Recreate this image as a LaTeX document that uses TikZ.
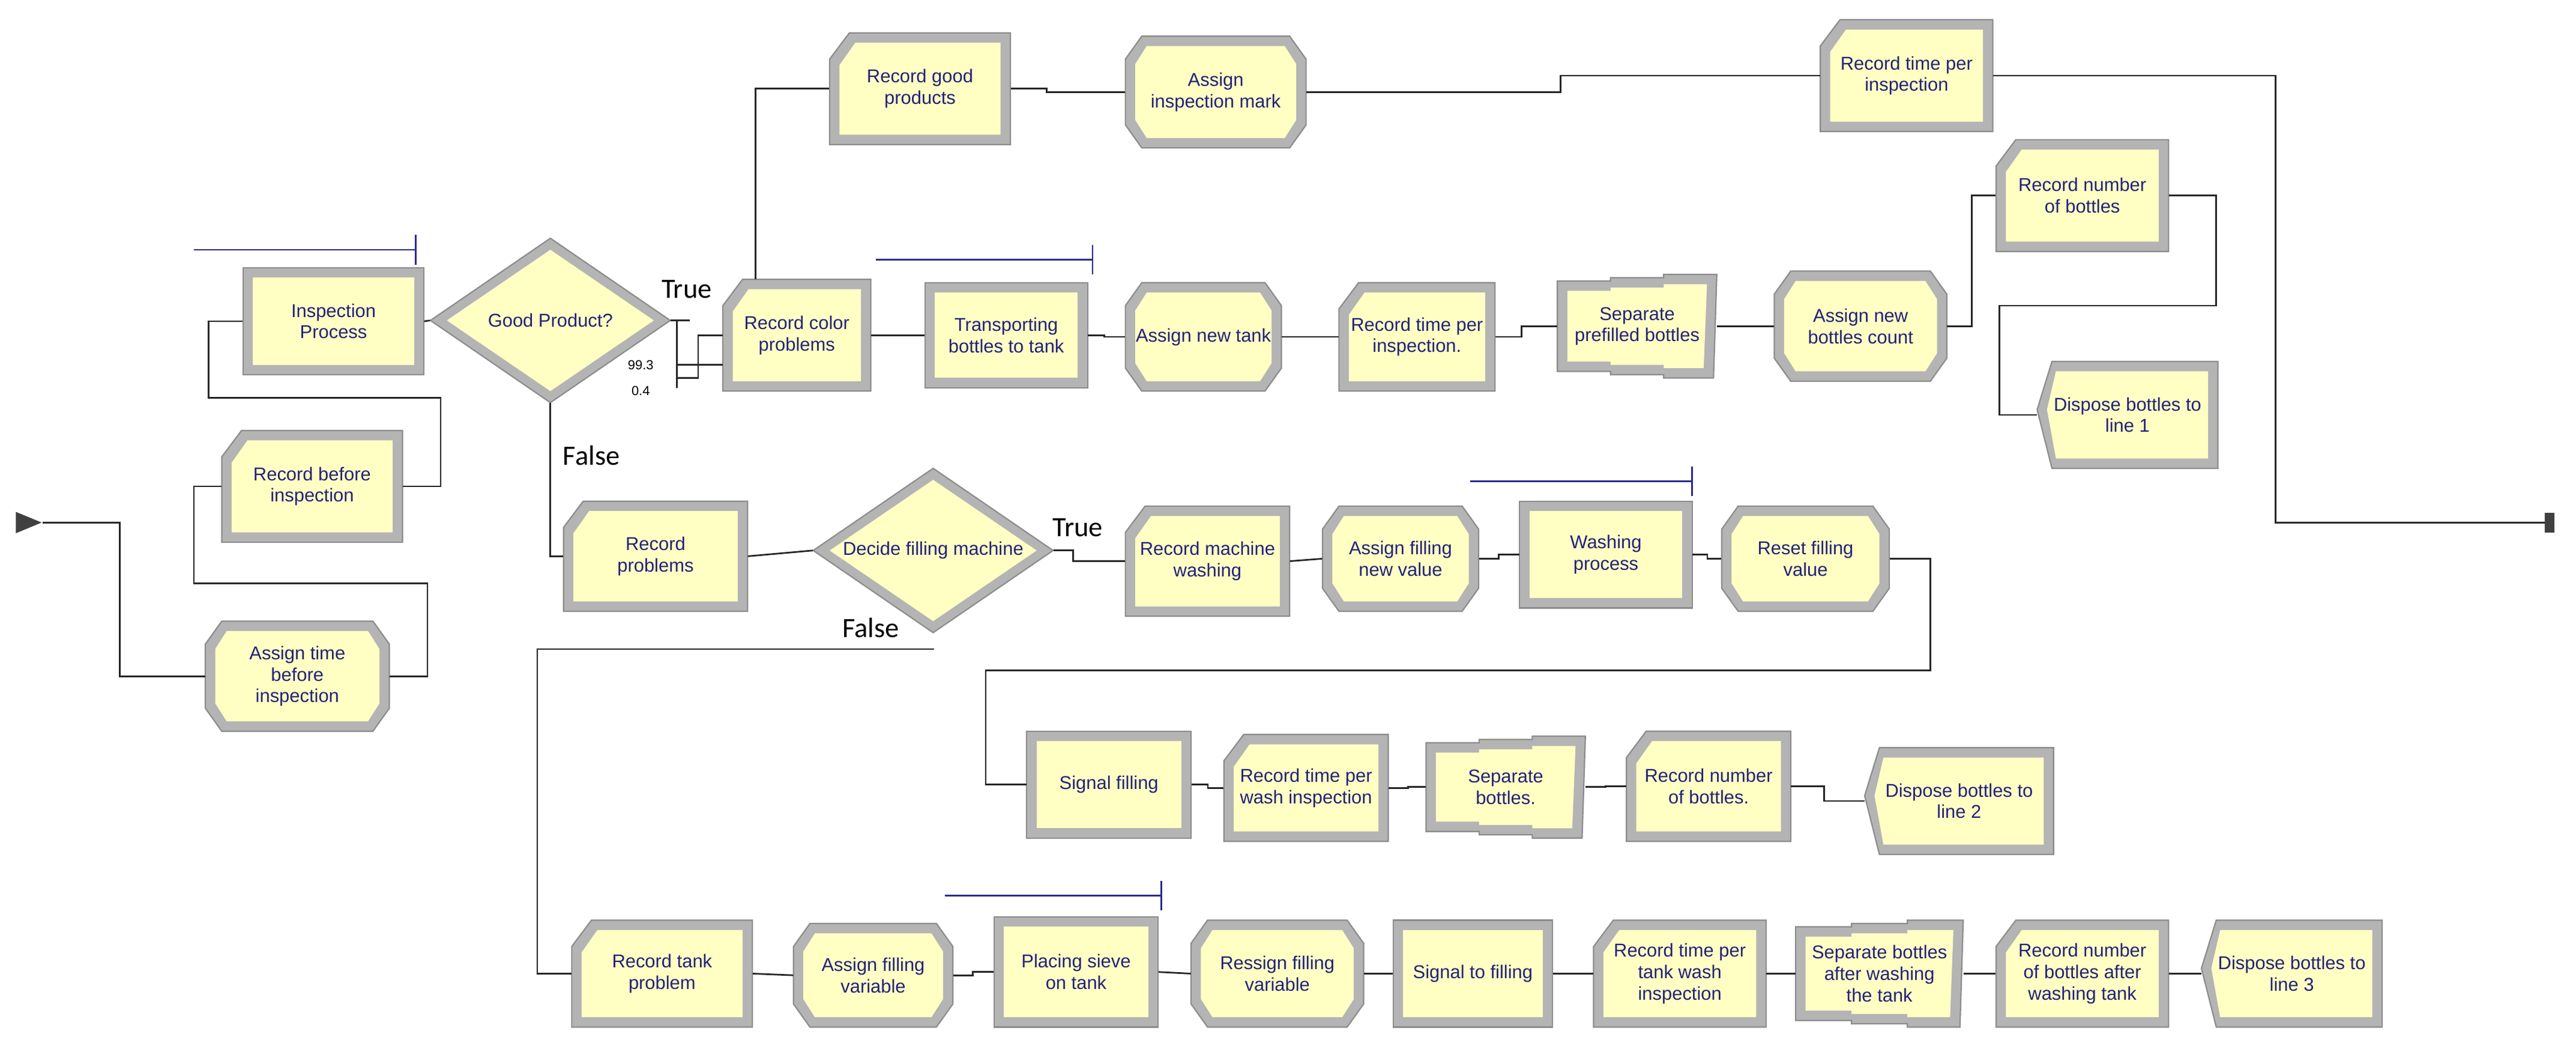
\documentclass[tikz,border=0pt]{standalone}
\usepackage{fontspec}
\setmainfont{Liberation Sans}
\newfontfamily\lblfont{Carlito}
\usetikzlibrary{shapes.geometric}
\definecolor{boxfill}{HTML}{FFFFC4}
\definecolor{bevel}{HTML}{B4B4B4}
\definecolor{beveldark}{HTML}{8C8C8C}
\definecolor{txtblue}{HTML}{22227A}
\definecolor{navyline}{HTML}{2A2A90}
\tikzset{
  txt/.style={text=txtblue,font=\fontsize{11.3}{13}\selectfont,align=center,inner sep=0pt},
  con/.style={draw=black!85,line width=1pt},
  lab/.style={font=\lblfont\fontsize{17}{19}\selectfont,text=black},
  pct/.style={font=\fontsize{8}{9}\selectfont,text=black},
  qline/.style={draw=navyline,line width=1pt}
}
\newcommand\shpP[2]{\path[#2] (#1,#1) rectangle ({\bw-#1},{\bh-#1});}
\newcommand\shpR[2]{\path[#2] ({12+#1*0.6},#1) -- ({\bw-#1},#1) -- ({\bw-#1},{\bh-#1}) -- (#1,{\bh-#1}) -- (#1,{16+#1*0.6}) -- cycle;}
\newcommand\shpA[2]{\path[#2] ({10+#1*0.5},#1) -- ({\bw-10-#1*0.5},#1) -- ({\bw-#1},{14+#1*0.5}) -- ({\bw-#1},{\bh-14-#1*0.5}) -- ({\bw-10-#1*0.5},{\bh-#1}) -- ({10+#1*0.5},{\bh-#1}) -- (#1,{\bh-14-#1*0.5}) -- (#1,{14+#1*0.5}) -- cycle;}
\newcommand\shpS[2]{\path[#2] (#1,{4+#1}) -- ({\bw/3},{4+#1}) -- ({\bw/3},{2+#1}) -- ({2*\bw/3},{2+#1}) -- ({2*\bw/3},#1) -- ({\bw-#1},#1) -- ({\bw-#1-2},{\bh-#1}) -- ({2*\bw/3},{\bh-#1}) -- ({2*\bw/3},{\bh-#1-2}) -- ({\bw/3},{\bh-#1-2}) -- ({\bw/3},{\bh-#1-4}) -- (#1,{\bh-#1-4}) -- cycle;}
\newcommand\shpD[2]{\path[#2] ({9+#1*0.4},#1) -- ({\bw-#1},#1) -- ({\bw-#1},{\bh-#1}) -- ({9+#1*0.4},{\bh-#1}) -- (#1,{\bh*0.45}) -- cycle;}
\newcommand\mkblk[7]{%
  \pgfmathsetmacro\bw{#5-#3}\pgfmathsetmacro\bh{#6-#4}%
  \begin{scope}[shift={(#3,#4)}]
    \csname shp#2\endcsname{0}{fill=bevel,draw=beveldark,line width=0.8pt}
    \csname shp#2\endcsname{6}{fill=boxfill}
  \end{scope}
  \node[txt,minimum width=\bw pt,minimum height=\bh pt] (#1) at ({(#3+#5)/2},{(#4+#6)/2}) {#7};
}
\newcommand\mkdia[5]{% name cx cy w text
  \path[fill=bevel,draw=beveldark,line width=0.8pt] ({#2-#4/2},#3) -- (#2,{#3-50}) -- ({#2+#4/2},#3) -- (#2,{#3+50}) -- cycle;
  \path[fill=boxfill] ({#2-#4/2+10},#3) -- (#2,{#3-43}) -- ({#2+#4/2-10},#3) -- (#2,{#3+43}) -- cycle;
  \node[txt,diamond,minimum width=#4 pt,minimum height=100pt] (#1) at (#2,#3) {#5};
}
\begin{document}
\begin{tikzpicture}[x=1pt,y=-1pt]
\useasboundingbox[fill=white] (0,0) rectangle (1568,640);
% blocks
\mkblk{rgp}{R}{505}{20}{615}{88}{Record good\\products}
\mkblk{aim}{A}{685}{22}{795}{90}{Assign\\inspection mark}
\mkblk{rtpi}{R}{1108}{12}{1213}{80}{Record time per\\inspection}
\mkblk{ip}{P}{148}{163}{258}{228}{Inspection\\Process}
\mkdia{gp}{335}{195}{146}{Good Product?}
\mkblk{rcp}{R}{440}{170}{530}{238}{Record color\\problems}
\mkblk{tbt}{P}{563}{172}{662}{236}{Transporting\\bottles to tank}
\mkblk{ant}{A}{685}{172}{780}{238}{Assign new tank}
\mkblk{rtpb}{R}{815}{172}{910}{238}{Record time per\\inspection.}
\mkblk{spb}{S}{948}{167}{1045}{230}{Separate\\prefilled bottles}
\mkblk{anbc}{A}{1080}{165}{1185}{232}{Assign new\\bottles count}
\mkblk{rnb}{R}{1215}{85}{1320}{153}{Record number\\of bottles}
\mkblk{dba}{D}{1240}{220}{1350}{285}{Dispose bottles to\\line 1}
\mkblk{rbi}{R}{135}{262}{245}{330}{Record before\\inspection}
\mkblk{atbi}{A}{125}{378}{237}{445}{Assign time\\before\\inspection}
\mkblk{rp}{R}{343}{305}{455}{372}{Record\\problems}
\mkdia{dfm}{568}{335}{146}{Decide filling machine}
\mkblk{rmw}{R}{685}{308}{785}{375}{Record machine\\washing}
\mkblk{afnv}{A}{805}{308}{900}{372}{Assign filling\\new value}
\mkblk{wp}{P}{925}{305}{1030}{370}{Washing\\process}
\mkblk{rfv}{A}{1048}{308}{1150}{372}{Reset filling\\value}
\mkblk{sf}{P}{625}{445}{725}{510}{Signal filling}
\mkblk{rtw}{R}{745}{447}{845}{512}{Record time per\\wash inspection}
\mkblk{sb}{S}{868}{448}{965}{510}{Separate\\bottles.}
\mkblk{rnbb}{R}{990}{445}{1090}{512}{Record number\\of bottles.}
\mkblk{dbb}{D}{1135}{455}{1250}{520}{Dispose bottles to\\line 2}
\mkblk{rtp}{R}{348}{560}{458}{625}{Record tank\\problem}
\mkblk{afv}{A}{483}{562}{580}{625}{Assign filling\\variable}
\mkblk{pst}{P}{605}{558}{705}{625}{Placing sieve\\on tank}
\mkblk{rsv}{A}{725}{560}{830}{625}{Ressign filling\\variable}
\mkblk{stf}{P}{848}{560}{945}{625}{Signal to filling}
\mkblk{rtt}{R}{970}{560}{1075}{625}{Record time per\\tank wash\\inspection}
\mkblk{sbw}{S}{1093}{560}{1195}{625}{Separate bottles\\after washing\\the tank}
\mkblk{rnw}{R}{1215}{560}{1320}{625}{Record number\\of bottles after\\washing tank}
\mkblk{dbc}{D}{1340}{560}{1450}{625}{Dispose bottles to\\line 3}
% create & exit
\node[isosceles triangle,fill=black!75,minimum width=13pt,minimum height=12pt,inner sep=0pt] (cr) at (14,318) {};
\node[fill=black!75,minimum width=6pt,minimum height=12pt,inner sep=0pt] (ex) at (1552,318) {};
% queue lines
\draw[qline] (118,152) -- (253,152) (253,143) -- (253,161);
\draw[qline] (533,158) -- (665,158) (665,149) -- (665,167);
\draw[qline] (895,293) -- (1030,293) (1030,284) -- (1030,302);
\draw[qline] (575,545) -- (707,545) (707,536) -- (707,554);
% connectors
\draw[con] (cr.east) -- (73,318) |- (atbi.west);
\draw[con] (atbi.east) -- ++(23,0) |- (118,355) |- (rbi.west);
\draw[con] (rbi.east) -- ++(23,0) |- (127,242) |- (ip.west);
\draw[con] (ip.east) -- (gp.west);
\draw[con] (gp.east) -- (420,195);
\draw[con] (412,195) -- (412,236);
\draw[con] (412,222) -- (rcp.west |- 0,222);
\draw[con] (412,230) -- (425,230) |- (rcp.west);
\draw[con] (rcp.north -| 460,0) |- (rgp.west);
\draw[con] (rgp.east) -- ++(22,0) |- (aim.west);
\draw[con] (aim.east) -- (950,56) |- (rtpi.west);
\draw[con] (rtpi.east) -| (1385,318) -- (ex.west);
\draw[con] (rcp.east) -- ++(12,0) |- (tbt.west);
\draw[con] (tbt.east) -- ++(10,0) |- (ant.west);
\draw[con] (ant.east) -- ++(15,0) |- (rtpb.west);
\draw[con] (rtpb.east) -- ++(16,0) |- (spb.west);
\draw[con] (spb.east) -- ++(15,0) |- (anbc.west);
\draw[con] (anbc.east) -- ++(15,0) |- (rnb.west);
\draw[con] (rnb.east) -- (1349,119) -- (1349,186) -- (1217,186) |- (dba.west);
\draw[con] (gp.south) |- (rp.west);
\draw[con] (rp.east) -- (dfm.west);
\draw[con] (dfm.east) -- ++(12,0) |- (rmw.west);
\draw[con] (rmw.east) -- (afnv.west);
\draw[con] (afnv.east) -- ++(12,0) |- (wp.west);
\draw[con] (wp.east) -- ++(9,0) |- (rfv.west);
\draw[con] (rfv.east) -- (1175,340) |- (600,408) |- (sf.west);
\draw[con] (sf.east) -- ++(10,0) |- (rtw.west);
\draw[con] (rtw.east) -- ++(12,0) |- (sb.west);
\draw[con] (sb.east) -- ++(12,0) |- (rnbb.west);
\draw[con] (rnbb.east) -- ++(20,0) |- (dbb.west);
\draw[con] (dfm.south) |- (327,395) |- (rtp.west);
\draw[con] (rtp.east) -- (afv.west);
\draw[con] (afv.east) -- ++(12,0) |- (pst.west);
\draw[con] (pst.east) -- (rsv.west);
\draw[con] (rsv.east) -- ++(10,0) |- (stf.west);
\draw[con] (stf.east) -- (rtt.west);
\draw[con] (rtt.east) -- (sbw.west);
\draw[con] (sbw.east) -- (rnw.west);
\draw[con] (rnw.east) -- (dbc.west);
% labels
\node[lab] (t1) at (418,176) {True};
\node[lab] (f1) at (360,277) {False};
\node[lab] (t2) at (656,321) {True};
\node[lab] (f2) at (530,382) {False};
\node[pct] (p1) at (390,222) {99.3};
\node[pct] (p2) at (390,238) {0.4};
\end{tikzpicture}
\end{document}
